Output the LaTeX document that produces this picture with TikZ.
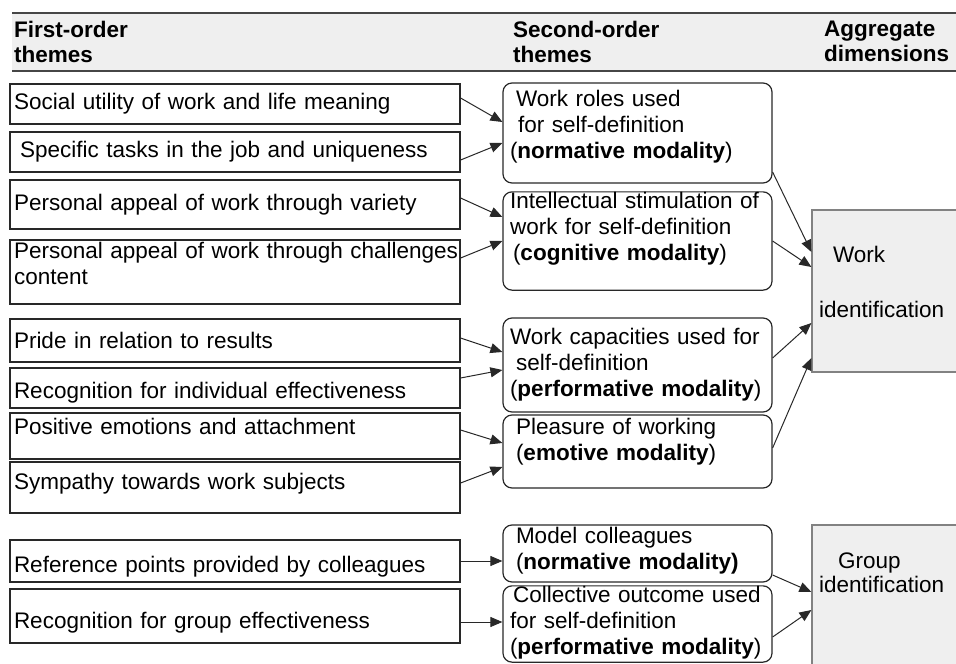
\documentclass[tikz,border=0pt]{standalone}
\usepackage{fontspec}
\setmainfont{Liberation Sans}
\usepackage{tikz}
\usetikzlibrary{arrows.meta, positioning}
\definecolor{BorderColor}{RGB}{40,40,40}
\definecolor{HeaderFill}{RGB}{239,239,239}
\definecolor{HeaderRule}{RGB}{70,70,70}
\definecolor{DimFill}{RGB}{239,239,239}
\definecolor{DimBorder}{RGB}{130,130,130}
% struts to move a text up (deeper last line) or down (taller first line)
\newcommand{\padlow}[1]{\rule[-#1]{0pt}{#1}}
\newcommand{\padhigh}[1]{\rule{0pt}{#1}}
\tikzset{
  theme/.style={rectangle, draw=BorderColor, line width=1.2pt, inner xsep=4pt, inner ysep=0pt, text width=442pt, align=left, minimum height=#1},
  subtheme/.style={rectangle, rounded corners=9pt, draw=BorderColor, line width=1.2pt, inner xsep=7pt, inner ysep=0pt, text width=255pt, align=left, minimum height=#1},
  dimension/.style={rectangle, fill=DimFill, draw=DimBorder, line width=1.2pt, inner xsep=7pt, inner ysep=0pt, text width=144pt, align=left, minimum height=#1},
  heading/.style={anchor=north west, inner sep=0pt, align=left, font=\fontsize{22.5}{25}\selectfont\bfseries},
  link/.style={-{Triangle[length=12pt,width=10pt]}, line width=1pt, BorderColor}
}

\begin{document}
\begin{tikzpicture}[x=1pt, y=-1pt, font=\fontsize{22.5}{26}\selectfont]
    \useasboundingbox (0,0) rectangle (956,664);
    \clip (0,0) rectangle (956,664);

    % Header band
    \fill[HeaderFill] (12,13) rectangle (956,71);
    \draw[HeaderRule, line width=1.8pt] (12,13) -- (956,13);
    \draw[HeaderRule, line width=1.8pt] (12,71) -- (956,71);
    \node[heading] (headfirst) at (14,21) {First-order\\themes};
    \node[heading] (headsecond) at (513,21) {Second-order\\themes};
    \node[heading] (headagg) at (824,21) {Aggregate\\dimensions};

    % First-order themes
    \node[theme=40pt] (fo1) at (235,104) {Social utility of work and life meaning};
    \node[theme=40pt] (fo2) at (235,152) {\hspace*{6pt}Specific tasks in the job and uniqueness};
    \node[theme=49pt] (fo3) at (235,204.5) {Personal appeal of work through variety};
    \node[theme=64pt] (fo4) at (235,272) {\mbox{Personal appeal of work through challenges}\\content\padlow{18pt}};
    \node[theme=43pt] (fo5) at (235,340.5) {Pride in relation to results};
    \node[theme=40pt] (fo6) at (235,388) {\padhigh{26pt}Recognition for individual effectiveness};
    \node[theme=46pt] (fo7) at (235,436) {Positive emotions and attachment\padlow{20pt}};
    \node[theme=51pt] (fo8) at (235,487.5) {Sympathy towards work subjects\padlow{13pt}};
    \node[theme=42pt] (fo9) at (235,561) {\padhigh{27pt}Reference points provided by colleagues};
    \node[theme=54pt] (fo10) at (235,616) {\padhigh{29pt}Recognition for group effectiveness};

    % Second-order themes
    \node[subtheme=100pt] (so1) at (637.5,133) {\hspace*{6pt}Work roles used\\\hspace*{8pt}for self-definition\\(\textbf{normative modality})\padlow{17pt}};
    \node[subtheme=98pt] (so2) at (637.5,241) {Intellectual stimulation of\\work for self-definition\\\hspace*{3pt}(\textbf{cognitive modality})\padlow{30pt}};
    \node[subtheme=94pt] (so3) at (637.5,365) {Work capacities used for\\\hspace*{6pt}self-definition\\(\textbf{performative modality})};
    \node[subtheme=73pt] (so4) at (637.5,451.5) {\hspace*{6pt}Pleasure of working\\\hspace*{6pt}(\textbf{emotive modality})\padlow{25pt}};
    \node[subtheme=57pt] (so5) at (637.5,553.5) {\hspace*{6pt}Model colleagues\\\hspace*{6pt}(\textbf{normative modality)}\padlow{11pt}};
    \node[subtheme=76pt] (so6) at (637.5,624) {\hspace*{3pt}Collective outcome used\\for self-definition\\(\textbf{performative modality})\padlow{8pt}};

    % Aggregate dimensions
    \node[dimension=162pt] (work) at (891,291) {\hspace*{14pt}Work\\[29pt]identification\padlow{19pt}};
    \node[dimension=155pt] (group) at (891,602.5) {\hspace*{19pt}Group\\[-2pt]identification\padlow{59pt}};

    % First-order to second-order
    \draw[link] ([yshift=6pt]fo1.east) -- ([yshift=11pt]so1.west);
    \draw[link] ([yshift=-8pt]fo2.east) -- ([yshift=-10pt]so1.west);
    \draw[link] ([yshift=6.5pt]fo3.east) -- ([yshift=24pt]so2.west);
    \draw[link] ([yshift=14pt]fo4.east) -- (so2.west);
    \draw[link] ([yshift=2.5pt]fo5.east) -- ([yshift=13pt]so3.west);
    \draw[link] ([yshift=10pt]fo6.east) -- ([yshift=-5pt]so3.west);
    \draw[link] ([yshift=6pt]fo7.east) -- ([yshift=8.5pt]so4.west);
    \draw[link] ([yshift=4.5pt]fo8.east) -- ([yshift=-15.5pt]so4.west);
    \draw[link] (fo9.east) -- (fo9.east -| so5.west);
    \draw[link] ([yshift=-6pt]fo10.east) -- ([yshift=-6pt]fo10.east -| so6.west);

    % Second-order to aggregate
    \draw[link] ([yshift=-39pt]so1.east) -- ([yshift=39pt]work.west);
    \draw[link] (so2.east) -- ([yshift=24pt]work.west);
    \draw[link] ([yshift=7pt]so3.east) -- ([yshift=-32pt]work.west);
    \draw[link] ([yshift=3.5pt]so4.east) -- ([yshift=-67pt]work.west);
    \draw[link] ([yshift=-21.5pt]so5.east) -- ([yshift=10.5pt]group.west);
    \draw[link] ([yshift=-13pt]so6.east) -- ([yshift=-7.5pt]group.west);
\end{tikzpicture}
\end{document}
